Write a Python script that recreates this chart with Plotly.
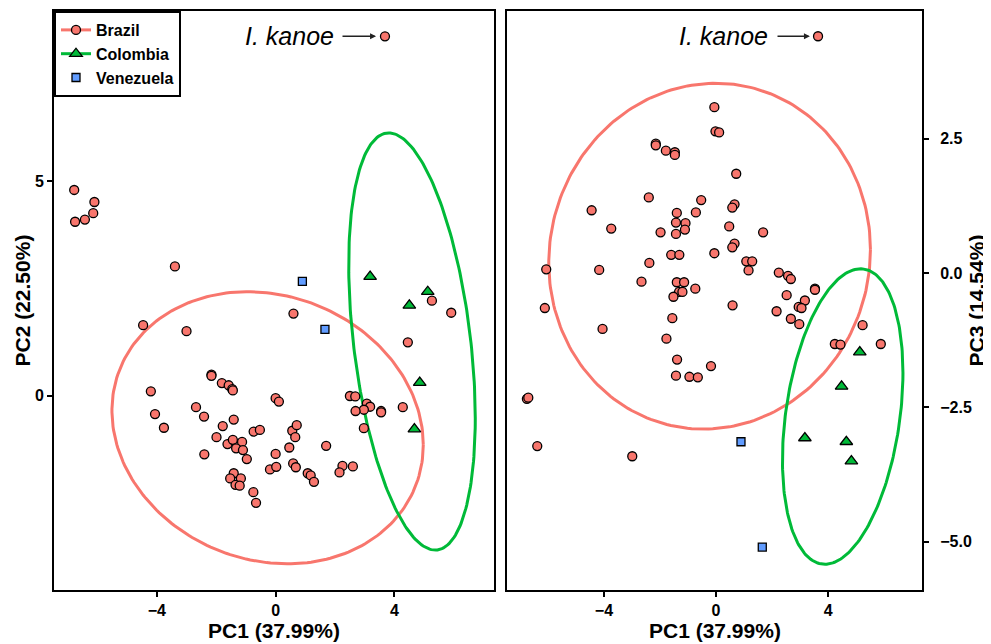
import numpy as np
import plotly.graph_objects as go

# ---------------- data ----------------
# Left panel: PC1 vs PC2
brazil_pc1_a = [-6.78, -6.10, -6.14, -6.42, -6.75, -3.39, -4.46, -3.00, 0.60, 5.26, 5.91, 4.45,
                -4.20, -4.06, -3.76, -2.16, -2.16, -1.81, -1.58, -1.46, -1.44, -2.68, -2.41, -1.41,
                -1.78, -1.99, -2.40, -1.62, -1.44, -1.13, -1.33, -1.10, -0.97, -0.74, -0.53, 0.00,
                0.11, -1.41, -1.53, -1.17, -1.35, -1.21, -0.75, -0.66, 0.00, 0.46, -0.19, 0.02,
                0.59, 0.68, 0.56, 0.71, 0.66, 1.08, 1.18, 1.29, 1.70, 2.25, 2.15, 2.60,
                2.50, 2.68, 3.07, 3.18, 2.97, 2.69, 3.55, 3.55, 4.28, 2.97, 3.68]
brazil_pc2 = [4.79, 4.51, 4.25, 4.10, 4.05, 3.01, 1.64, 1.50, 1.91, 2.21, 1.93, 1.24,
              0.10, -0.43, -0.75, 0.49, 0.46, 0.29, 0.24, 0.15, 0.12, -0.27, -0.49, -0.56,
              -0.71, -0.97, -1.37, -1.13, -1.03, -1.08, -1.23, -1.27, -1.48, -0.84, -0.80, -0.06,
              -0.14, -1.81, -1.93, -1.93, -2.08, -2.10, -2.25, -2.50, -1.36, -1.21, -1.72, -1.66,
              -1.58, -1.67, -0.82, -0.69, -0.97, -1.81, -1.86, -2.01, -1.17, -1.64, -1.79, -1.65,
              -0.01, -0.02, -0.19, -0.26, -0.33, -0.36, -0.36, -0.39, -0.27, -0.76, 8.37]
colombia_pc1_a = [3.18, 5.12, 4.50, 4.85, 4.67]
colombia_pc2 = [2.77, 2.42, 2.10, 0.30, -0.78]
venezuela_pc1_a = [0.90, 1.66]
venezuela_pc2 = [2.66, 1.54]

# Right panel: PC1 vs PC3
brazil_pc1_b = [3.64, -0.06, -0.02, 0.11, -2.15, -2.15, -1.79, -1.47, -1.47, -2.40, -0.53, -4.44,
                -0.72, -1.40, -3.74, -1.43, -1.09, -1.11, -1.98, -1.43, -0.06, -1.60, -1.31, -6.06,
                -4.17, -2.38, -2.66, -1.40, -1.14, -0.74, -1.32, -1.20, -1.52, 0.72, 0.66, 0.58,
                0.47, 1.68, 0.66, 0.58, 1.08, 1.29, 1.16, 2.24, 2.57, 2.67, 3.53, 3.53,
                2.52, 3.17, 2.95, 3.05, 2.16, 2.67, 2.97, 0.59, -1.56, -6.11, -4.05, -1.77,
                -1.39, -0.18, -1.43, -0.95, -0.65, -6.75, -6.70, -6.38, -2.99, 5.23, 4.24, 4.44, 5.88]
brazil_pc3 = [4.41, 3.09, 2.64, 2.62, 2.41, 2.38, 2.28, 2.25, 2.20, 1.41, 1.36, 1.17,
              1.13, 1.12, 0.83, 0.94, 0.93, 0.81, 0.76, 0.73, 0.37, 0.34, 0.34, 0.07,
              0.06, 0.19, -0.16, -0.17, -0.17, -0.29, -0.35, -0.35, -0.44, 1.85, 1.28, 1.22,
              0.87, 0.76, 0.55, 0.48, 0.22, 0.22, 0.05, 0.01, -0.05, -0.11, -0.29, -0.31,
              -0.41, -0.51, -0.63, -0.65, -0.71, -0.85, -0.95, -0.60, -0.84, -0.65, -1.04, -1.22,
              -1.61, -1.73, -1.91, -1.93, -1.94, -2.34, -2.32, -3.22, -3.41, -0.97, -1.32, -1.33, -1.32]
colombia_pc1_b = [5.13, 4.48, 3.17, 4.65, 4.83]
colombia_pc3 = [-1.47, -2.11, -3.07, -3.14, -3.50]
venezuela_pc1_b = [0.89, 1.65]
venezuela_pc3 = [-3.14, -5.10]

# ellipse parameters: centre x, centre y, sd-x, sd-y, covariance
ell_brazil_a = (-0.27, -0.75, 5.24, 3.17, -2.1)
ell_colombia_a = (4.59, 1.26, 2.13, 4.86, -3.8)
ell_brazil_b = (-0.23, 0.315, 5.74, 3.22, 0.7)
ell_colombia_b = (4.52, -2.67, 2.15, 2.75, 1.75)

kanoe_a = (3.68, 8.37)
kanoe_b = (3.64, 4.41)

RED = "#F8766D"
GREEN = "#00BA38"
BLUE = "#619CFF"
FONT = "Liberation Sans"

# page has an 8px body margin: figure is sized so it ends at the window edge
OFF = 8
W, H = 991 - OFF, 644 - OFF


def px(xp):
    return (xp - OFF) / W


def py(yp):
    return 1 - (yp - OFF) / H


def ellipse(p):
    cx, cy, sx, sy, c = p
    L = np.linalg.cholesky(np.array([[sx * sx, c], [c, sy * sy]]))
    t = np.linspace(0, 2 * np.pi, 240)
    pts = L @ np.vstack([np.cos(t), np.sin(t)])
    return cx + pts[0], cy + pts[1]


fig = go.Figure()


def add_panel(xa, ya, bx, by, cx, cy, vx, vy, eb, ec):
    ex, ey = ellipse(eb)
    fig.add_trace(go.Scatter(x=ex, y=ey, mode="lines", line=dict(color=RED, width=3),
                             showlegend=False, xaxis=xa, yaxis=ya, hoverinfo="skip"))
    ex, ey = ellipse(ec)
    fig.add_trace(go.Scatter(x=ex, y=ey, mode="lines", line=dict(color=GREEN, width=3),
                             showlegend=False, xaxis=xa, yaxis=ya, hoverinfo="skip"))
    fig.add_trace(go.Scatter(x=bx, y=by, mode="markers", showlegend=False, xaxis=xa, yaxis=ya,
                             marker=dict(symbol="circle", size=9, color=RED,
                                         line=dict(color="black", width=1.3))))
    fig.add_trace(go.Scatter(x=cx, y=cy, mode="markers", showlegend=False, xaxis=xa, yaxis=ya,
                             marker=dict(symbol="triangle-up", size=11, color=GREEN,
                                         line=dict(color="black", width=1.3))))
    fig.add_trace(go.Scatter(x=vx, y=vy, mode="markers", showlegend=False, xaxis=xa, yaxis=ya,
                             marker=dict(symbol="square", size=8, color=BLUE,
                                         line=dict(color="black", width=1.3))))


add_panel("x", "y", brazil_pc1_a, brazil_pc2, colombia_pc1_a, colombia_pc2,
          venezuela_pc1_a, venezuela_pc2, ell_brazil_a, ell_colombia_a)
add_panel("x2", "y2", brazil_pc1_b, brazil_pc3, colombia_pc1_b, colombia_pc3,
          venezuela_pc1_b, venezuela_pc3, ell_brazil_b, ell_colombia_b)

# legend entries
fig.add_trace(go.Scatter(x=[None], y=[None], mode="lines+markers", name="Brazil",
                         line=dict(color=RED, width=3),
                         marker=dict(symbol="circle", size=9, color=RED, line=dict(color="black", width=1.3))))
fig.add_trace(go.Scatter(x=[None], y=[None], mode="lines+markers", name="Colombia",
                         line=dict(color=GREEN, width=3),
                         marker=dict(symbol="triangle-up", size=11, color=GREEN, line=dict(color="black", width=1.3))))
fig.add_trace(go.Scatter(x=[None], y=[None], mode="markers", name="Venezuela",
                         marker=dict(symbol="square", size=8, color=BLUE, line=dict(color="black", width=1.3))))

axis_common = dict(showgrid=False, zeroline=False, showline=True, linecolor="black", linewidth=2,
                   mirror=True, ticks="outside", ticklen=5, tickwidth=1.5, tickcolor="black",
                   tickfont=dict(family=FONT, size=16, color="black", weight="bold"))

xr = [-7.46, 7.35]
fig.update_layout(
    width=W, height=H,
    margin=dict(l=0, r=0, t=0, b=0),
    plot_bgcolor="white", paper_bgcolor="white",
    xaxis=dict(domain=[px(54), px(494)], range=xr, tickvals=[-4, 0, 4], anchor="y", **axis_common),
    yaxis=dict(domain=[py(590), py(11)], range=[-4.53, 8.96], tickvals=[0, 5], anchor="x", **axis_common),
    xaxis2=dict(domain=[px(507), px(922)], range=xr, tickvals=[-4, 0, 4], anchor="y2", **axis_common),
    yaxis2=dict(domain=[py(590), py(11)], range=[-5.90, 4.88], tickvals=[-5, -2.5, 0, 2.5],
                ticktext=["\u22125.0", "\u22122.5", "0.0", "2.5"], side="right", anchor="x2",
                ticklabelstandoff=8, **axis_common),
    legend=dict(x=px(54), y=py(11), xanchor="left", yanchor="top", bordercolor="black", borderwidth=2,
                bgcolor="white", font=dict(family=FONT, size=16, color="black", weight="bold"),
                itemwidth=30, tracegroupgap=0),
    showlegend=True,
)

ann = []
# axis titles
tf = dict(family=FONT, size=21, color="black", weight="bold")
ann.append(dict(text="PC1 (37.99%)", x=px(274), y=py(630), xref="paper", yref="paper",
                showarrow=False, font=tf, xanchor="center", yanchor="middle"))
ann.append(dict(text="PC1 (37.99%)", x=px(714.5), y=py(630), xref="paper", yref="paper",
                showarrow=False, font=tf, xanchor="center", yanchor="middle"))
ann.append(dict(text="PC2 (22.50%)", x=px(22), y=py(300.5), xref="paper", yref="paper",
                showarrow=False, font=tf, textangle=-90, xanchor="center", yanchor="middle"))
ann.append(dict(text="PC3 (14.54%)", x=px(976), y=py(300.5), xref="paper", yref="paper",
                showarrow=False, font=tf, textangle=-90, xanchor="center", yanchor="middle"))

# I. kanoe labels and arrows
kf = dict(family=FONT, size=25, color="black")
ann.append(dict(text="<i>I. kanoe</i>", x=0.46, y=kanoe_a[1], xref="x", yref="y", showarrow=False,
                font=kf, xanchor="center", yanchor="middle"))
ann.append(dict(text="", x=3.38, y=kanoe_a[1], ax=2.2, ay=kanoe_a[1], xref="x", yref="y",
                axref="x", ayref="y", showarrow=True, arrowhead=2, arrowsize=0.8, arrowwidth=1.5,
                arrowcolor="#222222"))
ann.append(dict(text="<i>I. kanoe</i>", x=0.28, y=kanoe_b[1], xref="x2", yref="y2", showarrow=False,
                font=kf, xanchor="center", yanchor="middle"))
ann.append(dict(text="", x=3.35, y=kanoe_b[1], ax=2.14, ay=kanoe_b[1], xref="x2", yref="y2",
                axref="x2", ayref="y2", showarrow=True, arrowhead=2, arrowsize=0.8, arrowwidth=1.5,
                arrowcolor="#222222"))
fig.update_layout(annotations=ann)

fig.write_html("out.html")
